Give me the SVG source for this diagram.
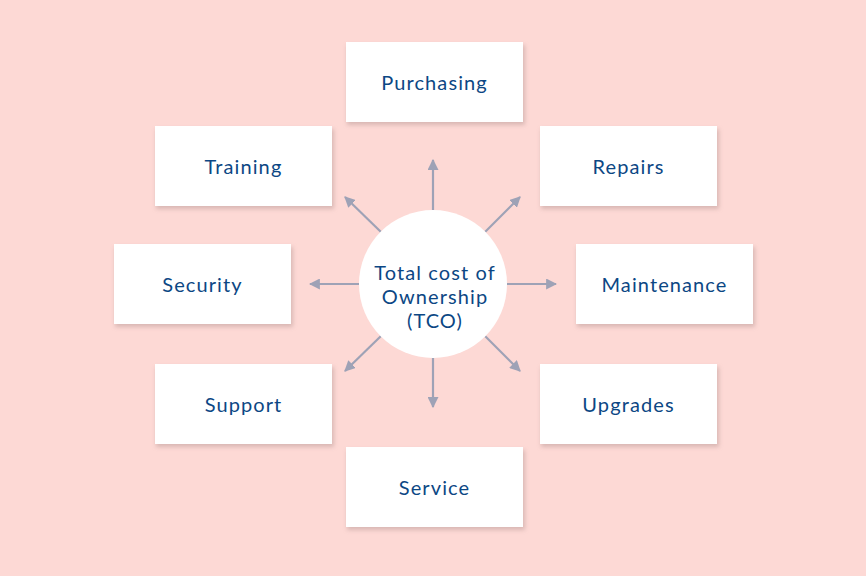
<svg xmlns="http://www.w3.org/2000/svg" width="866" height="576" viewBox="0 0 866 576">
<style>
.box{fill:#ffffff}
.sh{fill:#c9a9a6;opacity:0.7}
.lbl{font-family:Lato,"Open Sans","Liberation Sans",sans-serif;font-size:20px;letter-spacing:1.1px;fill:#0c4784;text-anchor:middle;dominant-baseline:central}
.con{stroke:#9ea2b6;stroke-width:2.2;fill:none;marker-end:url(#ah)}
</style>
<defs>
<marker id="ah" viewBox="0 0 10 10" refX="9" refY="5" markerWidth="5" markerHeight="5" orient="auto" markerUnits="strokeWidth">
<path d="M0,0 L10,5 L0,10 z" fill="#9ea2b6"/>
</marker>
<filter id="blur" x="-10%" y="-20%" width="120%" height="140%"><feGaussianBlur stdDeviation="2"/></filter>
</defs>
<rect width="866" height="576" fill="#fdd9d5"/>
<g id="connectors">
<line class="con" x1="433" y1="210" x2="433" y2="160"/>
<line class="con" x1="433" y1="358" x2="433" y2="407"/>
<line class="con" x1="359" y1="284" x2="310" y2="284"/>
<line class="con" x1="507" y1="284" x2="556" y2="284"/>
<line class="con" x1="381" y1="232" x2="345" y2="197"/>
<line class="con" x1="485" y1="232" x2="520" y2="197"/>
<line class="con" x1="381" y1="336" x2="345" y2="371"/>
<line class="con" x1="485" y1="336" x2="520" y2="371"/>
</g>
<g id="center">
<circle cx="433" cy="284" r="74" fill="#ffffff"/>
<text class="lbl" x="435" y="272">Total cost of</text>
<text class="lbl" x="435" y="296">Ownership</text>
<text class="lbl" x="435" y="320">(TCO)</text>
</g>
<g id="purchasing">
<rect class="sh" x="347" y="45" width="178" height="80" filter="url(#blur)"/>
<rect class="box" x="346" y="42" width="177" height="80"/>
<text class="lbl" x="434.5" y="82">Purchasing</text>
</g>
<g id="training">
<rect class="sh" x="156" y="129" width="178" height="80" filter="url(#blur)"/>
<rect class="box" x="155" y="126" width="177" height="80"/>
<text class="lbl" x="243.5" y="166">Training</text>
</g>
<g id="repairs">
<rect class="sh" x="541" y="129" width="178" height="80" filter="url(#blur)"/>
<rect class="box" x="540" y="126" width="177" height="80"/>
<text class="lbl" x="628.5" y="166">Repairs</text>
</g>
<g id="security">
<rect class="sh" x="115" y="247" width="178" height="80" filter="url(#blur)"/>
<rect class="box" x="114" y="244" width="177" height="80"/>
<text class="lbl" x="202.5" y="284">Security</text>
</g>
<g id="maintenance">
<rect class="sh" x="577" y="247" width="178" height="80" filter="url(#blur)"/>
<rect class="box" x="576" y="244" width="177" height="80"/>
<text class="lbl" x="664.5" y="284">Maintenance</text>
</g>
<g id="support">
<rect class="sh" x="156" y="367" width="178" height="80" filter="url(#blur)"/>
<rect class="box" x="155" y="364" width="177" height="80"/>
<text class="lbl" x="243.5" y="404">Support</text>
</g>
<g id="upgrades">
<rect class="sh" x="541" y="367" width="178" height="80" filter="url(#blur)"/>
<rect class="box" x="540" y="364" width="177" height="80"/>
<text class="lbl" x="628.5" y="404">Upgrades</text>
</g>
<g id="service">
<rect class="sh" x="347" y="450" width="178" height="80" filter="url(#blur)"/>
<rect class="box" x="346" y="447" width="177" height="80"/>
<text class="lbl" x="434.5" y="487">Service</text>
</g>
</svg>
